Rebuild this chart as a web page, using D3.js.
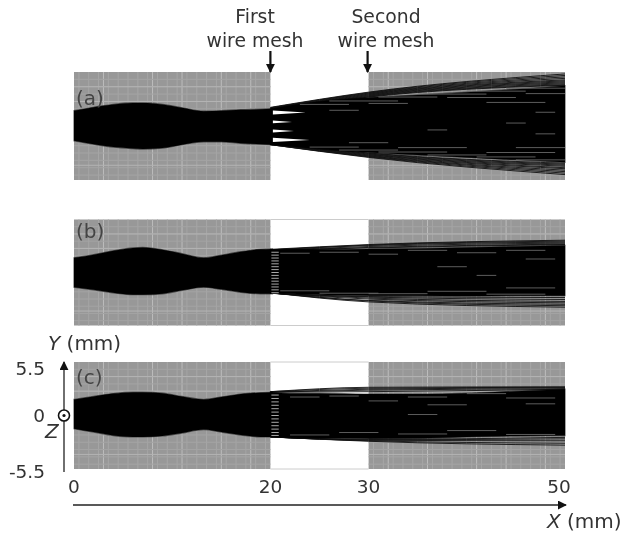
<!DOCTYPE html>
<html>
<head>
<meta charset="utf-8">
<script src="https://cdn.jsdelivr.net/npm/d3@7"></script>
<style>
  html, body { margin: 0; padding: 0; background: #fff; }
  svg { display: block; filter: blur(0.6px); }
  text { font-family: "DejaVu Sans", sans-serif; fill: #333; }
</style>
</head>
<body>
<svg id="chart" width="622" height="535" xmlns="http://www.w3.org/2000/svg"></svg>
<script>
// values, all in mm
const xTicks = [0, 20, 30, 50];
const yTicks = [5.5, 0, -5.5];
const panelNames = ["(a)", "(b)", "(c)"];
const labelBaseline = [105, 238, 384];
const meshX = [20, 30];
const brightX = [3, 8, 11, 15, 18, 32, 36, 41, 44, 48];
const brightY = [-4, -1, 2.5, 4];

// beam envelope before the first mesh
const beforeX = [0, 2, 4, 6, 7, 9, 11, 13.2, 15, 17, 19, 20.2];
const beforeTopA = [1.55, 1.9, 2.2, 2.35, 2.35, 2.2, 1.85, 1.5, 1.55, 1.65, 1.7, 1.75];
const beforeBotA = [-1.5, -1.85, -2.15, -2.3, -2.35, -2.25, -1.9, -1.6, -1.6, -1.75, -1.85, -1.9];
const beforeTopB = [1.52, 1.85, 2.25, 2.55, 2.6, 2.35, 1.95, 1.52, 1.8, 2.15, 2.4, 2.45];
const beforeBotB = [-1.52, -1.8, -2.1, -2.3, -2.3, -2.2, -1.85, -1.52, -1.75, -2.05, -2.2, -2.2];
const beforeTopC = [1.65, 1.95, 2.25, 2.4, 2.4, 2.3, 1.95, 1.65, 1.9, 2.2, 2.35, 2.4];
const beforeBotC = [-1.35, -1.7, -2.05, -2.2, -2.2, -2.1, -1.8, -1.45, -1.7, -2.0, -2.2, -2.2];

// dense part of the beam after the first mesh
const afterX = [20, 22, 25, 30, 35, 40, 45, 50];
const afterTopA = [1.75, 2.1, 2.5, 2.9, 3.15, 3.45, 3.75, 4.1];
const afterBotA = [-1.9, -2.05, -2.35, -2.7, -2.95, -3.2, -3.45, -3.7];
const afterTopB = [2.35, 2.4, 2.4, 2.45, 2.5, 2.6, 2.7, 2.8];
const afterBotB = [-2.1, -2.2, -2.3, -2.4, -2.4, -2.45, -2.4, -2.4];
const afterTopC = [2.4, 2.3, 2.3, 2.2, 2.2, 2.3, 2.5, 2.7];
const afterBotC = [-2.15, -2.3, -2.35, -2.4, -2.35, -2.2, -2.1, -2.05];

// stray rays, Y at X = 20, 30 and 50
const rayX = [20, 30, 50];
const raysA = [[1.9, 3.45, 5.3], [1.85, 3.4, 5.15], [1.85, 3.35, 5.0], [1.8, 3.3, 4.85], [1.75, 3.25, 4.7],
  [1.7, 3.2, 4.6], [1.7, 3.15, 4.5], [1.65, 3.1, 4.4], [1.65, 3.05, 4.3], [1.6, 3.0, 4.2], [1.6, 2.95, 4.15],
  [-1.9, -3.2, -4.95], [-1.9, -3.15, -4.8], [-1.9, -3.1, -4.65], [-1.85, -3.05, -4.5], [-1.85, -3.0, -4.35],
  [-1.85, -2.95, -4.25], [-1.8, -2.9, -4.1], [-1.8, -2.85, -4.0], [-1.8, -2.8, -3.9], [-1.75, -2.75, -3.8]];
const raysB = [[2.4, 2.9, 3.35], [2.35, 2.85, 3.25], [2.35, 2.8, 3.15], [2.3, 2.7, 3.05], [2.3, 2.6, 2.95], [2.3, 2.55, 2.9],
  [-2.1, -3.05, -3.6], [-2.1, -2.95, -3.45], [-2.1, -2.9, -3.3], [-2.15, -2.75, -3.15], [-2.15, -2.65, -3.0],
  [-2.15, -2.55, -2.8], [-2.15, -2.5, -2.6]];
const raysC = [[2.45, 2.9, 2.95], [2.45, 2.8, 2.9], [2.4, 2.7, 2.85], [2.4, 2.6, 2.75], [2.4, 2.45, 2.7],
  [-2.2, -2.65, -3.05], [-2.2, -2.6, -2.85], [-2.2, -2.55, -2.6], [-2.2, -2.5, -2.4], [-2.2, -2.45, -2.25]];

// lighter streaks through the dense part: X start, X end, Y
const streaksA = [[23, 28, 2.2], [26, 33, 2.55], [31, 37, 2.95], [35, 42, 3.25], [40, 46, 3.55], [44, 50, 3.85],
  [30, 34, 2.3], [38, 45, 2.9], [46, 50, 3.3], [42, 48, 2.4], [47, 49, 1.4], [44, 46, 0.3], [36, 38, -0.4],
  [24, 29, -2.15], [27, 33, -2.45], [31, 38, -2.65], [36, 42, -2.95], [41, 47, -3.15], [45, 50, -3.45],
  [33, 40, -2.2], [42, 49, -2.7], [45, 50, -2.2], [26, 29, 1.6], [28, 32, -1.7], [47, 49, -0.8]];
const streaksB = [[21, 24, 2.0], [25, 29, 2.1], [30, 33, 1.9], [34, 38, 2.3], [39, 43, 2.05], [44, 48, 2.3], [46, 49, 1.4],
  [37, 40, 0.6], [41, 43, -0.3], [21, 26, -1.9], [25, 31, -2.15], [30, 36, -2.2], [36, 42, -1.95], [42, 48, -2.25], [44, 49, -1.6]];
const streaksC = [[22, 25, 1.9], [26, 29, 2.0], [30, 33, 1.5], [34, 38, 1.9], [36, 40, 1.1], [40, 44, 2.25], [44, 49, 1.8],
  [46, 49, 1.2], [22, 26, -2.0], [27, 31, -1.75], [33, 38, -1.9], [38, 43, -1.55], [44, 49, -1.95], [34, 37, 0.1]];

// white wedges behind the first mesh in (a): Y at the mesh, half height, X of the tip
const wedgeY = [1.38, 0.42, -0.5, -1.42];
const wedgeH = [0.2, 0.15, 0.15, 0.22];
const wedgeTip = [23.6, 22.2, 22.4, 24];

// comb of the mesh shadow in (b) and (c)
const combB = [2.1, 1.8, 1.5, 1.2, 0.9, 0.6, 0.3, 0, -0.3, -0.6, -0.9, -1.2, -1.5, -1.8, -2.1];
const combC = [2.1, 1.75, 1.4, 1.05, 0.7, 0.35, 0, -0.35, -0.7, -1.05, -1.4, -1.75, -2.05];

const panels = [
  { name: panelNames[0], label: labelBaseline[0], top: 72, bottom: 180, beforeTop: beforeTopA, beforeBot: beforeBotA, afterTop: afterTopA, afterBot: afterBotA, rays: raysA, streaks: streaksA, comb: [], frame: false },
  { name: panelNames[1], label: labelBaseline[1], top: 219.5, bottom: 325.5, beforeTop: beforeTopB, beforeBot: beforeBotB, afterTop: afterTopB, afterBot: afterBotB, rays: raysB, streaks: streaksB, comb: combB, frame: true },
  { name: panelNames[2], label: labelBaseline[2], top: 362, bottom: 469, beforeTop: beforeTopC, beforeBot: beforeBotC, afterTop: afterTopC, afterBot: afterBotC, rays: raysC, streaks: streaksC, comb: combC, frame: true }
];

const svg = d3.select("#chart");
const x = d3.scaleLinear().domain([0, 50]).range([74, 565]);

// arrow heads
const defs = svg.append("defs");
defs.append("marker").attr("id", "head").attr("viewBox", "0 0 10 10")
  .attr("refX", 9).attr("refY", 5).attr("markerWidth", 9).attr("markerHeight", 9)
  .attr("markerUnits", "userSpaceOnUse").attr("orient", "auto")
  .append("path").attr("d", "M0,0L10,5L0,10Z").attr("fill", "#111");

const zip = (xs, a, b) => xs.map((d, i) => ({ x: d, y0: a[i], y1: b[i] }));

panels.forEach(p => {
  const y = d3.scaleLinear().domain([-5.5, 5.5]).range([p.bottom, p.top]);
  const g = svg.append("g");

  // gray detector regions
  [[0, 20], [30, 50]].forEach(r => {
    g.append("rect").attr("x", x(r[0])).attr("y", p.top)
      .attr("width", x(r[1]) - x(r[0])).attr("height", p.bottom - p.top)
      .attr("fill", "#989898");
    d3.range(r[0] + 0.5, r[1], 1).forEach(d => {
      g.append("line").attr("x1", x(d)).attr("x2", x(d)).attr("y1", p.top).attr("y2", p.bottom)
        .attr("stroke", "#a6a6a6").attr("stroke-width", 1);
    });
    brightX.filter(d => d > r[0] && d < r[1]).forEach(d => {
      g.append("line").attr("x1", x(d)).attr("x2", x(d)).attr("y1", p.top).attr("y2", p.bottom)
        .attr("stroke", "#bdbdbd").attr("stroke-width", 1);
    });
    d3.range(-5, 5.5, 0.75).forEach(d => {
      g.append("line").attr("x1", x(r[0])).attr("x2", x(r[1])).attr("y1", y(d)).attr("y2", y(d))
        .attr("stroke", "#a4a4a4").attr("stroke-width", 1);
    });
    brightY.forEach(d => {
      g.append("line").attr("x1", x(r[0])).attr("x2", x(r[1])).attr("y1", y(d)).attr("y2", y(d))
        .attr("stroke", "#b4b4b4").attr("stroke-width", 1);
    });
  });

  // thin frame over the open gap
  if (p.frame) {
    [p.top, p.bottom].forEach(v => {
      g.append("line").attr("x1", x(20)).attr("x2", x(30)).attr("y1", v).attr("y2", v)
        .attr("stroke", "#ccc").attr("stroke-width", 1);
    });
  }

  const area = d3.area().x(d => x(d.x)).y0(d => y(d.y0)).y1(d => y(d.y1));

  // stray rays first, dense beam over them
  const rayLine = d3.line().x((d, i) => x(rayX[i])).y(d => y(d)).curve(d3.curveMonotoneX);
  g.selectAll(".ray").data(p.rays).enter().append("path").attr("class", "ray")
    .attr("d", rayLine).attr("fill", "none").attr("stroke", "#111").attr("stroke-width", 0.9);

  g.append("path").datum(zip(beforeX, p.beforeBot, p.beforeTop))
    .attr("d", area.curve(d3.curveMonotoneX)).attr("fill", "#000")
    .attr("stroke", "#000").attr("stroke-opacity", 0.5).attr("stroke-width", 1.4);
  g.append("path").datum(zip(afterX, p.afterBot, p.afterTop))
    .attr("d", area.curve(d3.curveMonotoneX)).attr("fill", "#000")
    .attr("stroke", "#000").attr("stroke-opacity", 0.5).attr("stroke-width", 1.4);

  g.selectAll(".streak").data(p.streaks).enter().append("line").attr("class", "streak")
    .attr("x1", d => x(d[0])).attr("x2", d => x(d[1]))
    .attr("y1", d => y(d[2])).attr("y2", d => y(d[2]))
    .attr("stroke", "#666").attr("stroke-width", 0.9);

  // mesh shadow
  g.selectAll(".comb").data(p.comb).enter().append("line").attr("class", "comb")
    .attr("x1", x(20.1)).attr("x2", x(20.85))
    .attr("y1", d => y(d)).attr("y2", d => y(d))
    .attr("stroke", "#bbb").attr("stroke-width", 0.9);

  // panel label
  g.append("text").attr("x", 76).attr("y", p.label)
    .attr("font-size", 20).style("fill", "#444").text(p.name);

  if (p.name === "(a)") {
    wedgeY.forEach((d, i) => {
      g.append("path")
        .attr("d", `M${x(20.25)},${y(d + wedgeH[i])}L${x(wedgeTip[i])},${y(d)}L${x(20.25)},${y(d - wedgeH[i])}Z`)
        .attr("fill", "#fff");
    });
  }
});

// mesh captions and arrows
const captions = [["First", "wire mesh"], ["Second", "wire mesh"]];
const captionX = [255, 386];
captions.forEach((c, i) => {
  const t = svg.append("text").attr("text-anchor", "middle").attr("font-size", 18.8);
  t.append("tspan").attr("x", captionX[i]).attr("y", 23).text(c[0]);
  t.append("tspan").attr("x", captionX[i]).attr("y", 47).text(c[1]);
  svg.append("line").attr("x1", x(meshX[i]) - (i ? 1 : 0)).attr("x2", x(meshX[i]) - (i ? 1 : 0))
    .attr("y1", 51).attr("y2", 72)
    .attr("stroke", "#111").attr("stroke-width", 2.2).attr("marker-end", "url(#head)");
});

// Y axis with the scale of panel (c)
const yC = d3.scaleLinear().domain([-5.5, 5.5]).range([469, 362]);
svg.append("line").attr("x1", 64).attr("x2", 64).attr("y1", 472).attr("y2", 362)
  .attr("stroke", "#222").attr("stroke-width", 1.3).attr("marker-end", "url(#head)");
const yLabelShift = [13, 6, 9];
yTicks.forEach((d, i) => {
  svg.append("text").attr("x", 45).attr("y", yC(d) + yLabelShift[i])
    .attr("text-anchor", "end").attr("font-size", 18.5).text(d);
});
svg.append("circle").attr("cx", 64).attr("cy", yC(0)).attr("r", 5.5)
  .attr("fill", "#fff").attr("stroke", "#111").attr("stroke-width", 1.6);
svg.append("circle").attr("cx", 64).attr("cy", yC(0)).attr("r", 1.6).attr("fill", "#111");
svg.append("text").attr("x", 45).attr("y", 438).attr("font-size", 20).attr("font-style", "italic").text("Z");
const yTitle = svg.append("text").attr("x", 48).attr("y", 350).attr("font-size", 20);
yTitle.append("tspan").attr("font-style", "italic").text("Y");
yTitle.append("tspan").text(" (mm)");

// X axis
const xLabelShift = [0, 0, 0, -6];
xTicks.forEach((d, i) => {
  svg.append("text").attr("x", x(d) + xLabelShift[i]).attr("y", 493)
    .attr("text-anchor", "middle").attr("font-size", 18.5).text(d);
});
svg.append("line").attr("x1", 73).attr("x2", 566).attr("y1", 505).attr("y2", 505)
  .attr("stroke", "#222").attr("stroke-width", 1.3).attr("marker-end", "url(#head)");
const xTitle = svg.append("text").attr("x", 547).attr("y", 528).attr("font-size", 20);
xTitle.append("tspan").attr("font-style", "italic").text("X");
xTitle.append("tspan").text(" (mm)");
</script>
</body>
</html>
